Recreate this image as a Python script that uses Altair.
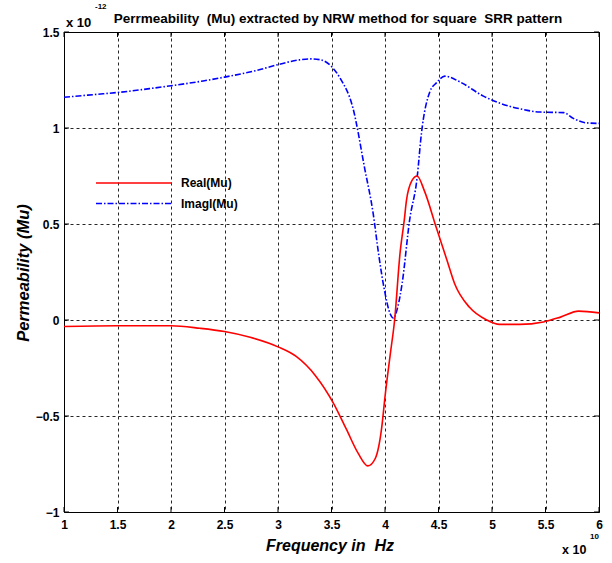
import altair as alt
import pandas as pd

# ---- data (frequency in units of 1e10 Hz, permeability in units of 1e-12) ----
freq_imag = [1.0, 1.3, 1.5, 1.8, 2.0, 2.3, 2.5, 2.8, 3.0, 3.2, 3.3, 3.4, 3.5, 3.58,
             3.70, 3.81, 3.89, 3.94, 3.99, 4.05, 4.08, 4.12, 4.16, 4.23, 4.30, 4.34,
             4.42, 4.48, 4.56, 4.70, 4.92, 5.07, 5.26, 5.45, 5.67, 5.76, 5.88, 6.0]
imag_mu = [1.16, 1.175, 1.185, 1.205, 1.22, 1.245, 1.265, 1.30, 1.33, 1.355, 1.36, 1.355,
           1.32, 1.26, 1.105, 0.79, 0.553, 0.345, 0.17, 0.03, 0.01, 0.07, 0.19, 0.52,
           0.74, 0.97, 1.19, 1.235, 1.27, 1.24, 1.166, 1.13, 1.10, 1.083, 1.08, 1.05,
           1.027, 1.024]

freq_real = [1.0, 1.5, 2.0, 2.27, 2.5, 2.74, 3.0, 3.17, 3.35, 3.52, 3.64, 3.75, 3.84,
             3.91, 3.97, 4.0, 4.05, 4.09, 4.14, 4.18, 4.20, 4.25, 4.30, 4.37, 4.48,
             4.58, 4.65, 4.79, 4.95, 5.07, 5.26, 5.48, 5.64, 5.81, 6.0]
real_mu = [-0.034, -0.03, -0.03, -0.043, -0.06, -0.09, -0.14, -0.19, -0.29, -0.435,
           -0.57, -0.695, -0.76, -0.72, -0.557, -0.40, -0.175, 0.0, 0.345, 0.52, 0.62,
           0.724, 0.75, 0.67, 0.48, 0.31, 0.19, 0.066, 0.0, -0.023, -0.023, -0.01,
           0.015, 0.046, 0.037]

x_ticks = [1, 1.5, 2, 2.5, 3, 3.5, 4, 4.5, 5, 5.5, 6]
y_ticks = [-1, -0.5, 0, 0.5, 1, 1.5]
legend_labels = ["Real(Mu)", "Imagl(Mu)"]
title_text = "Perrmeability\u00a0\u00a0(Mu) extracted by NRW method for square\u00a0\u00a0SRR pattern"
x_title = "Frequency in\u00a0\u00a0Hz"
y_title = "Permeability (Mu)"

W, H = 535, 480
FONT = "Liberation Sans"

df_real = pd.DataFrame({"f": freq_real, "mu": real_mu})
df_imag = pd.DataFrame({"f": freq_imag, "mu": imag_mu})
df_xt = pd.DataFrame({"f": x_ticks})
df_yt = pd.DataFrame({"mu": y_ticks})
dummy = alt.Data(values=[{"a": 1}])

xs = alt.Scale(domain=[1, 6], nice=False, zero=False)
ys = alt.Scale(domain=[-1, 1.5], nice=False, zero=False)

axis_common = dict(title=None, grid=True, gridDash=[3, 3], gridColor="#000000",
                   gridOpacity=0.85, gridWidth=1, ticks=False, domain=False,
                   labelFont=FONT, labelFontWeight="bold", labelFontSize=12,
                   labelColor="#000000", labelFlush=False, labelOverlap=False,
                   format="~g")

x_axis = alt.Axis(values=x_ticks, labelPadding=7, **axis_common)
y_axis = alt.Axis(values=y_ticks, labelPadding=5, **axis_common)

X = alt.X("f:Q", scale=xs, axis=x_axis)
Y = alt.Y("mu:Q", scale=ys, axis=y_axis)

imag_line = alt.Chart(df_imag).mark_line(
    color="#0000ff", strokeWidth=1.6, strokeDash=[6, 2, 1.5, 2], interpolate="monotone"
).encode(x=X, y=Y)

real_line = alt.Chart(df_real).mark_line(
    color="#ff0000", strokeWidth=1.6, interpolate="monotone"
).encode(x=X, y=Y)

# inward ticks
tick_bottom = alt.Chart(df_xt).mark_rule(color="black").encode(
    x=X, y=alt.value(H), y2=alt.value(H - 5))
tick_top = alt.Chart(df_xt).mark_rule(color="black").encode(
    x=X, y=alt.value(0), y2=alt.value(5))
tick_left = alt.Chart(df_yt).mark_rule(color="black").encode(
    y=Y, x=alt.value(0), x2=alt.value(5))
tick_right = alt.Chart(df_yt).mark_rule(color="black").encode(
    y=Y, x=alt.value(W), x2=alt.value(W - 5))


def txt(text, x, y, size=12, weight="bold", style="normal", align="left", angle=0):
    kw = dict(font=FONT, fontSize=size, fontWeight=weight, fontStyle=style,
              align=align, baseline="middle", color="black")
    if angle:
        kw["angle"] = angle
    return alt.Chart(dummy).mark_text(**kw).encode(
        x=alt.value(x), y=alt.value(y), text=alt.value(text))


# legend
leg_real = alt.Chart(dummy).mark_rule(color="#ff0000", strokeWidth=1.6).encode(
    x=alt.value(32), x2=alt.value(108), y=alt.value(151))
leg_imag = alt.Chart(dummy).mark_rule(color="#0000ff", strokeWidth=1.6,
                                      strokeDash=[6, 2, 1.5, 2]).encode(
    x=alt.value(32), x2=alt.value(108), y=alt.value(171.5))

texts = [
    txt(title_text, 274, -13, size=13.5, align="center"),
    txt("x 10", 2, -9.5, size=13),
    txt("-12", 31, -25.5, size=8),
    txt(x_title, 266, 514, size=16, style="italic", align="center"),
    txt("x 10", 498, 518, size=12.5),
    txt("10", 526, 505, size=8),
    txt(y_title, -40, 241, size=16.5, style="italic", align="center", angle=270),
    txt(legend_labels[0], 117, 151, size=12),
    txt(legend_labels[1], 117, 172, size=12),
]

chart = alt.layer(
    imag_line, real_line, tick_bottom, tick_top, tick_left, tick_right,
    leg_real, leg_imag, *texts
).properties(
    width=W, height=H,
    autosize=alt.AutoSizeParams(type="none"),
    padding={"left": 64, "top": 32, "right": 13, "bottom": 51},
    background="white",
).configure_view(stroke="black", strokeWidth=1)

chart.save("out.html", embed_options={"renderer": "svg", "actions": False})
